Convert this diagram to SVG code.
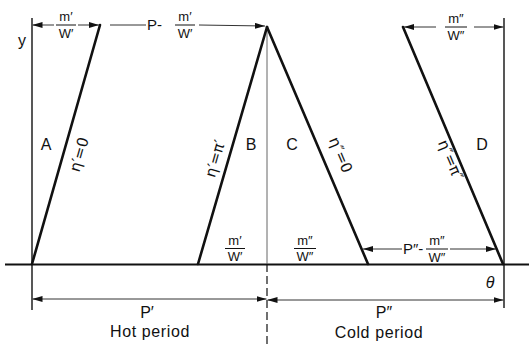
<svg xmlns="http://www.w3.org/2000/svg" width="529" height="346" viewBox="0 0 529 346">
<style>
.t{font-family:"Liberation Sans",Arial,sans-serif;fill:#111}
.g{font-family:"DejaVu Sans","Liberation Sans",sans-serif;fill:#111;font-size:15px}
.f{font-size:13px;text-anchor:middle}
.lbl{font-size:16px;text-anchor:middle}
.thick{stroke:#111;stroke-width:2.6;fill:none;stroke-linecap:round}
.ax{stroke:#111;stroke-width:1.4;fill:none}
.dim{stroke:#333;stroke-width:1;fill:none}
.bar{stroke:#111;stroke-width:1}
</style>
<defs>
<marker id="ah" viewBox="0 0 10 6" refX="10" refY="3" markerWidth="10" markerHeight="6" markerUnits="userSpaceOnUse" orient="auto-start-reverse">
<path d="M0,0 L10,3 L0,6 Z" fill="#111"/>
</marker>
</defs>
<g id="axes">
<line class="ax" x1="32" y1="18" x2="32" y2="310"/>
<line class="ax" x1="504" y1="18" x2="504" y2="308"/>
<line x1="5" y1="264.5" x2="529" y2="264.5" stroke="#111" stroke-width="2"/>
<line x1="267" y1="27" x2="267" y2="264" stroke="#555" stroke-width="0.9"/>
<line x1="267" y1="264" x2="267" y2="346" stroke="#111" stroke-width="1.2" stroke-dasharray="8,4"/>
<text class="t" x="22" y="46" font-size="16" text-anchor="middle">y</text>
<text class="t" x="490" y="288" font-size="16" font-style="italic" text-anchor="middle" font-family="Liberation Serif,serif">θ</text>
</g>
<g id="lineA">
<line class="thick" x1="32" y1="264" x2="100" y2="25"/>
<text class="t lbl" x="46" y="150">A</text>
<text class="g" transform="translate(84,156) rotate(-74)" text-anchor="middle">η′=0</text>
</g>
<g id="lineB">
<line class="thick" x1="198" y1="264" x2="267" y2="27"/>
<text class="t lbl" x="251" y="150">B</text>
<text class="g" transform="translate(220,160) rotate(-74)" text-anchor="middle">η′=π′</text>
</g>
<g id="lineC">
<line class="thick" x1="267" y1="27" x2="368" y2="264"/>
<text class="t lbl" x="292" y="150">C</text>
<text class="g" transform="translate(336,157) rotate(67)" text-anchor="middle">η″=0</text>
</g>
<g id="lineD">
<line class="thick" x1="403" y1="27" x2="503" y2="264"/>
<text class="t lbl" x="482" y="150">D</text>
<text class="g" transform="translate(446,162) rotate(67)" text-anchor="middle">η″=π″</text>
</g>
<g id="connectors">
<line class="dim" x1="54" y1="25" x2="32.5" y2="25" marker-end="url(#ah)"/>
<line class="dim" x1="78" y1="25" x2="99" y2="25" marker-end="url(#ah)"/>
<line class="dim" x1="110" y1="25" x2="146" y2="25"/>
<line class="dim" x1="199" y1="25" x2="265" y2="26" marker-end="url(#ah)"/>
<line class="dim" x1="436" y1="27" x2="404" y2="27" marker-end="url(#ah)"/>
<line class="dim" x1="474" y1="27" x2="503.5" y2="27" marker-end="url(#ah)"/>
<line class="dim" x1="402" y1="249" x2="363" y2="249" marker-end="url(#ah)"/>
<line class="dim" x1="450" y1="249" x2="496" y2="249" marker-end="url(#ah)"/>
<line class="dim" x1="32.5" y1="299" x2="266.5" y2="299" marker-start="url(#ah)" marker-end="url(#ah)"/>
<line class="dim" x1="267.5" y1="300" x2="503.5" y2="300" marker-start="url(#ah)" marker-end="url(#ah)"/>
</g>
<g id="labels">
<text class="t f" x="66" y="21">m′</text><line class="bar" x1="56" y1="25" x2="76" y2="25"/><text class="t f" x="66" y="38">W′</text>
<text class="t" x="147" y="30" font-size="15">P-</text>
<text class="t f" x="185" y="21">m′</text><line class="bar" x1="175" y1="25" x2="195" y2="25"/><text class="t f" x="185" y="38">W′</text>
<text class="t f" x="456" y="23">m″</text><line class="bar" x1="445" y1="27" x2="467" y2="27"/><text class="t f" x="456" y="40">W″</text>
<text class="t f" x="235" y="245">m′</text><line class="bar" x1="225" y1="248.5" x2="245" y2="248.5"/><text class="t f" x="235" y="261">W′</text>
<text class="t f" x="305" y="245">m″</text><line class="bar" x1="294" y1="248.5" x2="316" y2="248.5"/><text class="t f" x="305" y="261">W″</text>
<text class="t" x="403" y="254" font-size="15">P″-</text>
<text class="t f" x="437" y="245">m″</text><line class="bar" x1="426" y1="249" x2="448" y2="249"/><text class="t f" x="437" y="262">W″</text>
<text class="t lbl" x="147" y="318">P′</text>
<text class="t lbl" x="150" y="337" letter-spacing="0.6">Hot period</text>
<text class="t lbl" x="384" y="318">P″</text>
<text class="t lbl" x="379" y="338" letter-spacing="0.6">Cold period</text>
</g>
</svg>
